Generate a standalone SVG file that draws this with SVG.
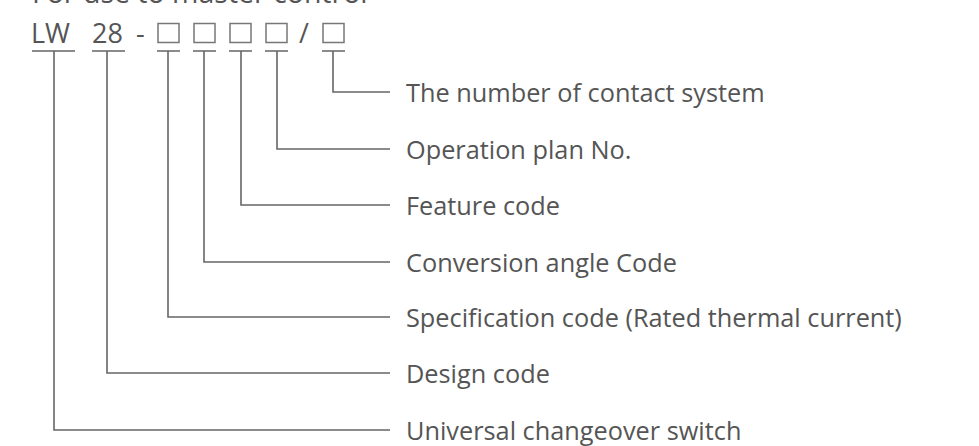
<svg xmlns="http://www.w3.org/2000/svg" width="979" height="446" viewBox="0 0 979 446">
<style>
text{font-family:"Open Sans","Liberation Sans",sans-serif;fill:#555;font-size:25.3px}
.code{font-size:27px}
.top{font-size:28.5px}
.ln{stroke:#666;stroke-width:1.6;fill:none}
.box{stroke:#777;stroke-width:1.5;fill:none}
</style>
<rect width="979" height="446" fill="#fff"/>
<text class="top" x="32" y="3">For use to master control</text>
<g id="code">
<text class="code" x="31" y="43">LW</text>
<text class="code" x="92" y="43">28</text>
<text class="code" x="136" y="43">-</text>
<rect class="box" x="158" y="23.5" width="21" height="19"/>
<rect class="box" x="194" y="23.5" width="21" height="19"/>
<rect class="box" x="230" y="23.5" width="21" height="19"/>
<rect class="box" x="266" y="23.5" width="21" height="19"/>
<text class="code" x="299" y="43">/</text>
<rect class="box" x="323" y="23.5" width="21" height="19"/>
</g>
<g id="connectors">
<path class="ln" d="M32 51H75M54 51V430H390"/>
<path class="ln" d="M92 51H125M107 51V373H390"/>
<path class="ln" d="M157 51H180M168 51V317H390"/>
<path class="ln" d="M193 51H216M204 51V262H390"/>
<path class="ln" d="M229 51H252M241 51V205H390"/>
<path class="ln" d="M265 51H288M277 51V149H390"/>
<path class="ln" d="M322 51H345M333 51V92H390"/>
</g>
<g id="labels">
<text x="406" y="102">The number of contact system</text>
<text x="406" y="159">Operation plan No.</text>
<text x="406" y="215">Feature code</text>
<text x="406" y="272">Conversion angle Code</text>
<text x="406" y="327">Specification code (Rated thermal current)</text>
<text x="406" y="383">Design code</text>
<text x="406" y="440">Universal changeover switch</text>
</g>
</svg>
